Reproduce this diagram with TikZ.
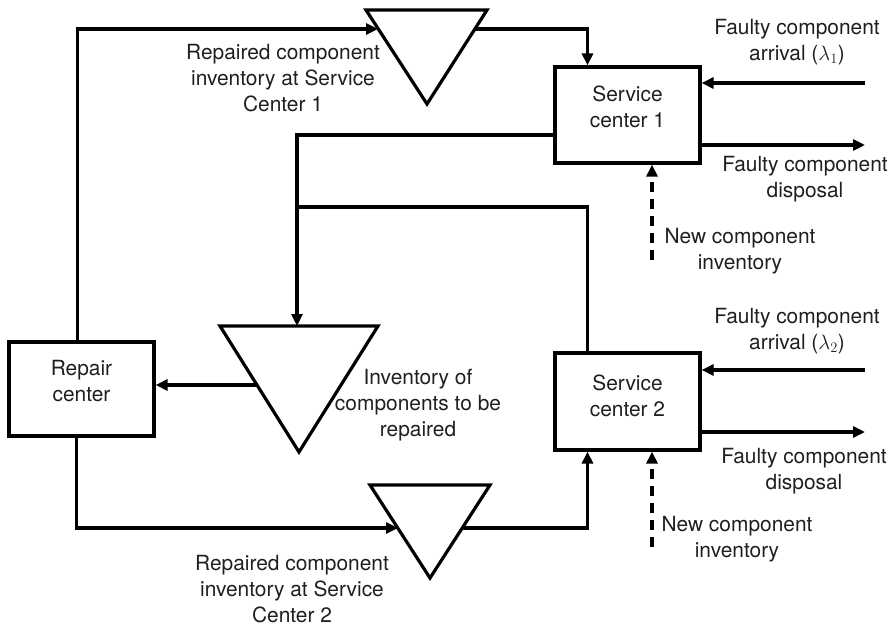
\documentclass[tikz,border=0pt]{standalone}
\usepackage{fontspec}
\setmainfont{TeX Gyre Heros}
\usetikzlibrary{arrows.meta}
\begin{document}
\begin{tikzpicture}[x=1pt,y=-1pt,
  every node/.style={font=\fontsize{20.9}{26}\selectfont, text=black!88},
  box/.style={draw, line width=3.2pt, minimum width=145pt, minimum height=96pt, align=center, inner sep=0pt, text depth=17pt},
  lbl/.style={align=center, inner sep=0pt},
  conn/.style={line width=3.2pt, line join=miter},
  arr/.style={conn, -{Triangle[length=12pt,width=11pt]}},
  dsh/.style={arr, dash pattern=on 10pt off 7pt},
  tri/.style={line width=3.2pt, line join=miter}]
\useasboundingbox (0,0) rectangle (894,627);

% boxes
\node[box] (sc1) at (627.5,115) {Service\\center 1};
\node[box, minimum height=97pt, text depth=12pt] (sc2) at (627.5,401.5) {Service\\center 2};
\node[box, minimum height=94pt, text depth=16pt] (rc) at (81.5,389) {Repair\\center};

% triangles (inventories)
\draw[tri] (366,10) -- (487,10) -- (427,104) -- cycle;
\draw[tri] (220,326) -- (378,326) -- (299,452) -- cycle;
\draw[tri] (370,485) -- (490,485) -- (430,578) -- cycle;

% connector end points on triangles and free ends
\coordinate (t1in) at (378,29);
\coordinate (t1out) at (475,29);
\coordinate (t2top) at (297,326);
\coordinate (t2out) at (257,385);
\coordinate (t3in) at (398,528);
\coordinate (t3out) at (462,528);
\coordinate (j1) at (297,207);
\coordinate (in1) at (865,83);
\coordinate (out1) at (865,145);
\coordinate (new1) at (652,260);
\coordinate (in2) at (865,370);
\coordinate (out2) at (865,432);
\coordinate (new2) at (652,547);

% labels
\node[lbl] (l1) at (283,78) {Repaired component\\inventory at Service\\Center 1};
\node[lbl] (l2) at (418,405) {Inventory of\\components to be\\repaired};
\node[lbl] (l3) at (292,589) {Repaired component\\inventory at Service\\Center 2};
\node[lbl] (a1) at (797,42) {Faulty component\\arrival ($\lambda_1$)};
\node[lbl] (d1) at (805,179) {Faulty component\\disposal};
\node[lbl] (n1) at (740,251) {New component\\inventory};
\node[lbl] (a2) at (797,331) {Faulty component\\arrival ($\lambda_2$)};
\node[lbl] (d2) at (804,471) {Faulty component\\disposal};
\node[lbl] (n2) at (737,539) {New component\\inventory};

% connectors
\draw[arr] ([xshift=-4pt]rc.north) |- (t1in);
\draw[arr] (t1out) -| ([xshift=-40pt]sc1.north);
\draw[arr] (in1) -- (in1 -| sc1.east);
\draw[arr] (out1 -| sc1.east) -- (out1);
\draw[dsh] (new1) -- (new1 |- sc1.south);
\draw[arr] ([yshift=-20pt]sc1.west) -| (t2top);
\draw[conn] ([xshift=-40pt]sc2.north) |- (j1);
\draw[arr] (in2) -- (in2 -| sc2.east);
\draw[arr] (out2 -| sc2.east) -- (out2);
\draw[dsh] (new2) -- (new2 |- sc2.south);
\draw[arr] (t2out) -- (t2out -| rc.east);
\draw[arr] ([xshift=-5pt]rc.south) |- (t3in);
\draw[arr] (t3out) -| ([xshift=-40pt]sc2.south);
\end{tikzpicture}
\end{document}
